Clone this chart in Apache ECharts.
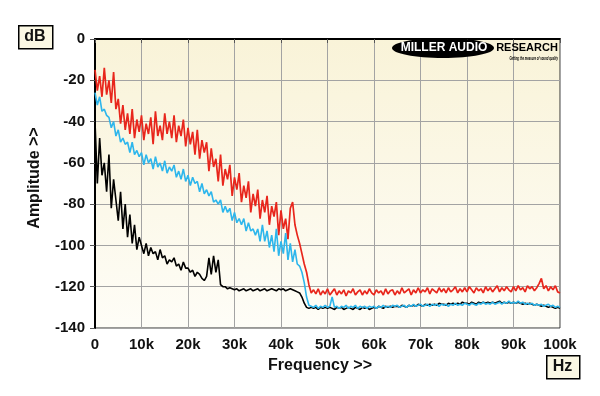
<!DOCTYPE html>
<html>
<head>
<meta charset="utf-8">
<script src="https://cdn.jsdelivr.net/npm/echarts@6/dist/echarts.min.js"></script>
<style>
  html, body { margin: 0; padding: 0; background: #fff; }
  #chart { width: 600px; height: 396px; }
</style>
</head>
<body>
<div id="chart"></div>
<script>
// spectrum sampled every 0.5 kHz, 0 .. 100 kHz (10 values per row = 5 kHz)
const STEP_KHZ = 0.5;

const redDb = [
  -15, -25, -18, -28, -14, -27, -20, -31, -16, -34,
  -29, -41, -32, -44, -36, -46, -34, -48, -39, -45,
  -37, -49, -41, -46, -38, -51, -35, -47, -42, -49,
  -36, -46, -40, -48, -37, -50, -42, -47, -39, -52,
  -43, -51, -45, -56, -44, -58, -49, -55, -50, -64,
  -53, -62, -58, -69, -56, -71, -63, -68, -61, -76,
  -67, -73, -65, -79, -71, -77, -69, -84, -75, -81,
  -73, -87, -78, -84, -76, -90, -81, -86, -79, -95,
  -83, -92, -87, -97, -82, -79, -90, -95, -99, -104,
  -109, -113, -119, -123, -121.5, -123.5, -121, -124, -122, -123.5,
  -121, -124, -122.5, -121, -124, -122, -123.5, -121.5, -124.5, -122,
  -123, -121, -124, -122.5, -121.5, -124, -122, -123.5, -121, -123,
  -124, -121.5, -123, -122, -124, -121, -123.5, -122, -121.5, -124,
  -122, -123.5, -120.5, -123, -122, -121, -124, -121.5, -123, -120.5,
  -123, -121.5, -122.5, -120.5, -123.5, -121, -122, -123, -120.5, -122.5,
  -121, -123, -120.5, -122.5, -121.5, -120, -123, -121, -122.5, -120.5,
  -122.5, -120, -121.5, -123, -120.5, -122, -121, -123, -120, -122,
  -120.5, -122.5, -121, -119.5, -122.5, -120.5, -122, -120, -121.5, -122.5,
  -120, -122, -119.5, -121.5, -120.5, -122.5, -119.5, -121, -120, -122,
  -120.5, -118.5, -116, -121, -119.5, -122, -120, -121.5, -119.5, -122.5,
  -123
];

const cyanDb = [
  -26, -32, -28, -35, -34, -37, -38, -43, -40, -47,
  -44, -50, -48, -51, -50, -55, -50, -56, -54, -57,
  -55, -61, -56, -60, -58, -63, -57, -62, -60, -64,
  -59, -65, -62, -64, -61, -67, -64, -68, -63, -69,
  -66, -71, -67, -70, -69, -74, -70, -75, -73, -76,
  -74, -79, -78, -80, -78, -84, -81, -84, -82, -88,
  -84, -89, -87, -90, -87, -93, -89, -93, -92, -95,
  -92, -98, -90, -98, -93, -101, -95, -103, -92, -105,
  -98, -104, -94, -107, -99, -108, -102, -109, -110, -113,
  -118, -125, -129, -129.5, -130, -129, -130.5, -129.5, -130, -129,
  -130, -129.5, -125, -130, -129.5, -130.5, -129.5, -130, -129, -130.5,
  -129.5, -130, -129, -130.5, -129.5, -130, -129.5, -130.5, -129.5, -130,
  -129.5, -130.5, -129.5, -130, -129, -130, -129.5, -130, -129, -129.5,
  -129, -130, -129.5, -129, -130, -129, -129.5, -128.5, -129.5, -129,
  -128.5, -129.5, -129, -128.5, -129.5, -128.5, -129, -128.5, -129.5, -128.5,
  -129, -128.5, -129.5, -128.5, -129, -128, -129, -128.5, -129, -128,
  -128.5, -129, -128, -128.5, -129, -128, -128.5, -127.5, -128.5, -128,
  -128.5, -127.5, -128.5, -128, -127.5, -128.5, -127.5, -128, -127, -128,
  -127.5, -128, -127, -128, -127.5, -128.5, -128, -128.5, -128, -129,
  -128.5, -129, -128.5, -129.5, -129, -128.5, -129.5, -129, -130, -129.5,
  -130
];

const blackDb = [
  -40, -70, -48, -66, -60, -74, -56, -82, -68, -78,
  -88, -74, -92, -80, -96, -85, -99, -90, -102, -96,
  -100, -104, -99, -105, -101, -104, -103, -107, -102, -106,
  -105, -109, -107, -108, -106, -110, -109, -112, -108, -111,
  -111, -113, -112, -115, -113, -114, -116, -117, -115, -106,
  -114, -105, -113, -107, -119, -120, -120, -121, -120.5, -121,
  -121.5, -121, -122, -121.5, -121, -122, -121.5, -121, -122, -121.5,
  -121, -122, -121.5, -121, -122, -121.5, -121, -121.5, -122, -121,
  -121.5, -121, -122, -121.5, -121, -121.5, -122, -122.5, -123, -125,
  -128, -130, -130.5, -130, -130.5, -130, -131, -130, -130.5, -130,
  -130.5, -130, -130.5, -131, -130, -130.5, -130, -131, -130.5, -130,
  -130.5, -131, -130, -130.5, -131, -130, -130.5, -130, -131, -130.5,
  -130, -130.5, -129.5, -130, -130.5, -129.5, -130, -129.5, -130, -129.5,
  -129.5, -130, -129, -129.5, -130, -129, -129.5, -129, -129.5, -128.5,
  -129, -129.5, -128.5, -129, -128.5, -129, -128.5, -129, -128, -128.5,
  -128.5, -129, -128, -128.5, -128, -128.5, -128, -128.5, -127.5, -128,
  -128, -128.5, -127.5, -128, -128.5, -127.5, -128, -127.5, -128, -127.5,
  -128, -127.5, -128, -127.5, -127, -128, -127.5, -128, -127.5, -128,
  -127.5, -128, -127.5, -128, -128.5, -128, -128.5, -128, -128.5, -129,
  -128.5, -129, -129.5, -129, -129.5, -130, -129.5, -130, -130.5, -130,
  -130.5
];

const xTicksKhz = [0, 10, 20, 30, 40, 50, 60, 70, 80, 90, 100];
const yTicksDb = [0, -20, -40, -60, -80, -100, -120, -140];

const toPairs = (arr) => arr.map((v, i) => [i * STEP_KHZ, v]);

const FONT = '"Liberation Sans", Arial, sans-serif';

const chart = echarts.init(document.getElementById('chart'), null, { renderer: 'canvas' });

const option = {
  animation: false,
  backgroundColor: '#ffffff',
  grid: {
    left: 95, right: 40, top: 39, bottom: 68,
    show: true,
    borderColor: '#333',
    borderWidth: 1,
    backgroundColor: new echarts.graphic.LinearGradient(0, 0, 0, 1, [
      { offset: 0, color: '#f9f3d8' },
      { offset: 1, color: '#fefdf7' }
    ])
  },
  xAxis: {
    type: 'value',
    min: 0, max: 100, interval: 10,
    axisLine: { show: true, lineStyle: { color: '#000', width: 2 } },
    axisTick: { show: true, length: 4, lineStyle: { color: '#555' } },
    splitLine: { show: true, lineStyle: { color: '#a3a3a3', width: 1 } },
    axisLabel: {
      margin: 9,
      color: '#111',
      fontFamily: FONT,
      fontWeight: 'bold',
      fontSize: 15,
      formatter: (v) => xTicksKhz.includes(v) ? (v === 0 ? '0' : v + 'k') : ''
    }
  },
  yAxis: {
    type: 'value',
    min: -140, max: 0, interval: 20,
    axisLine: { show: true, lineStyle: { color: '#000', width: 2 } },
    axisTick: { show: true, length: 5, lineStyle: { color: '#555' } },
    splitLine: { show: true, lineStyle: { color: '#a3a3a3', width: 1 } },
    axisLabel: {
      margin: 10,
      color: '#111',
      fontFamily: FONT,
      fontWeight: 'bold',
      fontSize: 15,
      formatter: (v) => yTicksDb.includes(v) ? String(v) : ''
    }
  },
  series: [
    {
      name: 'black', type: 'line', showSymbol: false, sampling: 'none',
      data: toPairs(blackDb),
      lineStyle: { color: '#000000', width: 1.6 }
    },
    {
      name: 'red', type: 'line', showSymbol: false, sampling: 'none',
      data: toPairs(redDb),
      lineStyle: { color: '#e8261c', width: 1.7 }
    },
    {
      name: 'cyan', type: 'line', showSymbol: false, sampling: 'none',
      data: toPairs(cyanDb),
      lineStyle: { color: '#2db6ec', width: 1.6 }
    }
  ],
  graphic: [
    // dB unit box
    {
      type: 'rect', left: 18, top: 25,
      shape: { width: 34, height: 23 },
      style: { fill: '#fbf8e4', stroke: '#000', lineWidth: 1.5 }
    },
    {
      type: 'text', x: 35, y: 37,
      style: { text: 'dB', font: 'bold 16px ' + FONT, fill: '#111', align: 'center', verticalAlign: 'middle' }
    },
    // Hz unit box
    {
      type: 'rect', left: 546, top: 355,
      shape: { width: 33, height: 23 },
      style: { fill: '#fbf8e4', stroke: '#000', lineWidth: 1.5 }
    },
    {
      type: 'text', x: 562.5, y: 367,
      style: { text: 'Hz', font: 'bold 16px ' + FONT, fill: '#111', align: 'center', verticalAlign: 'middle' }
    },
    {
      type: 'text', x: 320, y: 366,
      style: { text: 'Frequency >>', font: 'bold 16px ' + FONT, fill: '#111', align: 'center', verticalAlign: 'middle' }
    },
    {
      type: 'text', x: 35, y: 178, rotation: Math.PI / 2,
      style: { text: 'Amplitude >>', font: 'bold 16px ' + FONT, fill: '#111', align: 'center', verticalAlign: 'middle' }
    },
    // logo
    {
      type: 'ellipse', z: 10,
      shape: { cx: 443, cy: 48, rx: 51, ry: 10 },
      style: { fill: '#000' }
    },
    {
      type: 'text', x: 444, y: 48, z: 11,
      style: { text: 'MILLER AUDIO', font: 'bold 12px ' + FONT, fill: '#fff', align: 'center', verticalAlign: 'middle' }
    },
    {
      type: 'text', x: 527, y: 48, z: 11,
      style: { text: 'RESEARCH', font: 'bold 11px ' + FONT, fill: '#000', align: 'center', verticalAlign: 'middle' }
    },
    {
      type: 'text', x: 558, y: 59, z: 11, scaleX: 0.55,
      style: { text: 'Getting the measure of sound quality', font: 'italic bold 5px ' + FONT, fill: '#000', align: 'right', verticalAlign: 'middle' }
    }
  ]
};

chart.setOption(option);
</script>
</body>
</html>
